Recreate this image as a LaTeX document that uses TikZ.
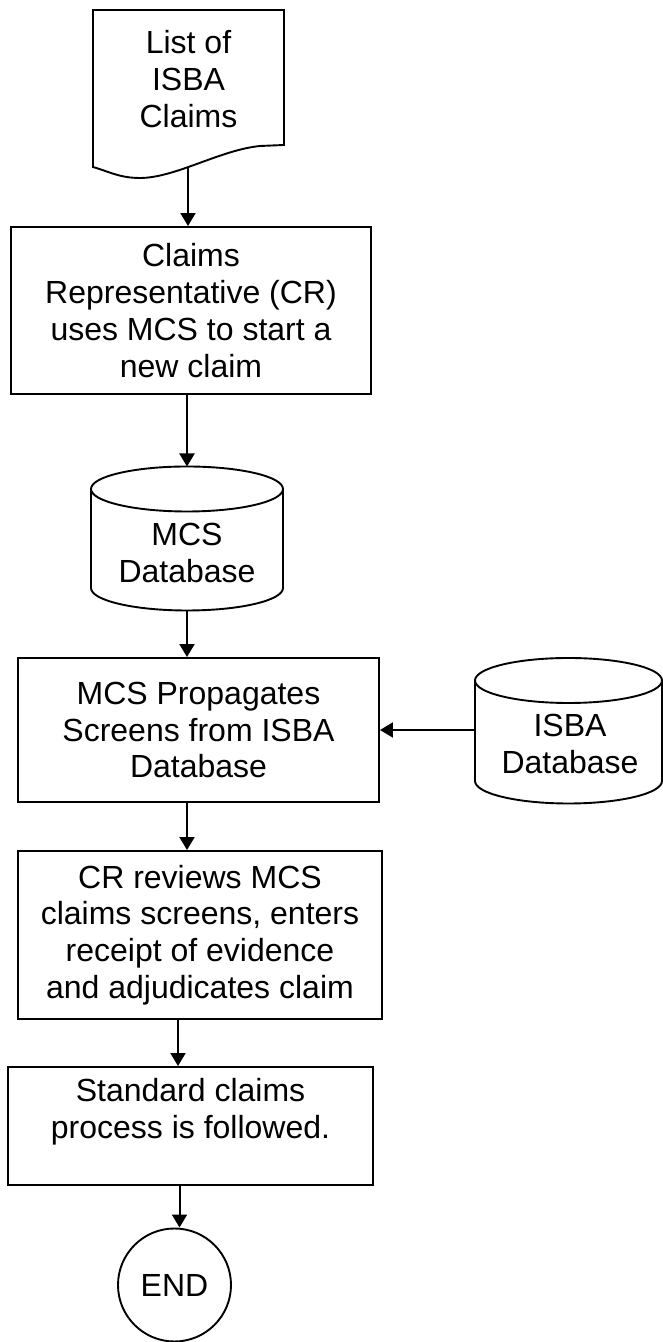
\documentclass[tikz,border=0pt]{standalone}
\usepackage{fontspec}
\setmainfont{Liberation Sans}
\usetikzlibrary{arrows.meta}
\begin{document}
\begin{tikzpicture}[x=1pt,y=1pt,
  txt/.style={align=center,inner sep=0pt,font=\fontsize{32}{36.8}\selectfont},
  procbox/.style={draw,line width=1.9pt,align=center,inner sep=0pt,font=\fontsize{32}{36.8}\selectfont},
  hidden/.style={inner sep=0pt,outer sep=0pt},
  shapeline/.style={line width=1.9pt},
  arr/.style={line width=2pt,-{Triangle[width=15pt,length=13pt]}}]
\useasboundingbox (0,0) rectangle (663,1342);
% Document shape
\draw[shapeline] (93,1175) -- (93,1332) -- (284,1332) -- (284,1197) -- (260,1196)
  .. controls (220,1192) and (175,1164) .. (140,1164)
  .. controls (120,1164) and (110,1170) .. (93,1175) -- cycle;
\node[txt] (doc) at (188.5,1263) {List of\\ISBA\\Claims};
\coordinate (docb) at (188,1174);
% Box 1
\node[procbox,minimum width=360pt,minimum height=167pt] (box1) at (191,1031.5) {Claims\\Representative (CR)\\uses MCS to start a\\new claim};
% MCS cylinder
\draw[shapeline] (91,853) -- (91,754) arc[start angle=180,end angle=360,x radius=96,y radius=22.5] -- (283,853);
\draw[shapeline] (187,853) ellipse[x radius=96,y radius=22.5];
\node[hidden,minimum width=192pt,minimum height=144pt] (mcs) at (187,803.5) {};
\node[txt] (mcst) at (187,789) {MCS\\Database};
% Box 2
\node[procbox,minimum width=361pt,minimum height=144pt] (box2) at (198.5,612) {MCS Propagates\\Screens from ISBA\\Database};
% ISBA cylinder
\draw[shapeline] (475,661.5) -- (475,561) arc[start angle=180,end angle=360,x radius=93.5,y radius=22.5] -- (662,661.5);
\draw[shapeline] (568.5,661.5) ellipse[x radius=93.5,y radius=22.5];
\node[hidden,minimum width=187pt,minimum height=145.5pt] (isba) at (568.5,611.25) {};
\node[txt] (isbat) at (570,598) {ISBA\\Database};
% Box 3
\node[procbox,minimum width=364pt,minimum height=168pt] (box3) at (200,407) {CR reviews MCS\\claims screens, enters\\receipt of evidence\\and adjudicates claim};
% Box 4
\node[procbox,minimum width=365pt,minimum height=118pt] (box4) at (190.5,216) {};
\node[txt] (box4t) at (190.5,230) {Standard claims\\process is followed.};
% END
\node[draw,circle,line width=1.9pt,minimum size=113pt,inner sep=0pt,font=\fontsize{32}{36.8}\selectfont] (endn) at (174.5,57) {END};
% connector x positions
\coordinate (cA) at (187,0);
\coordinate (cB) at (178,0);
\coordinate (cC) at (179.5,0);
% Connectors
\draw[arr] (docb) -- (docb |- box1.north);
\draw[arr] (cA |- box1.south) -- (mcs.north);
\draw[arr] (mcs.south) -- (cA |- box2.north);
\draw[arr] (isba.west |- box2.east) -- (box2.east);
\draw[arr] (cA |- box2.south) -- (cA |- box3.north);
\draw[arr] (cB |- box3.south) -- (cB |- box4.north);
\draw[arr] (cC |- box4.south) -- (cC |- endn.north);
\end{tikzpicture}
\end{document}
